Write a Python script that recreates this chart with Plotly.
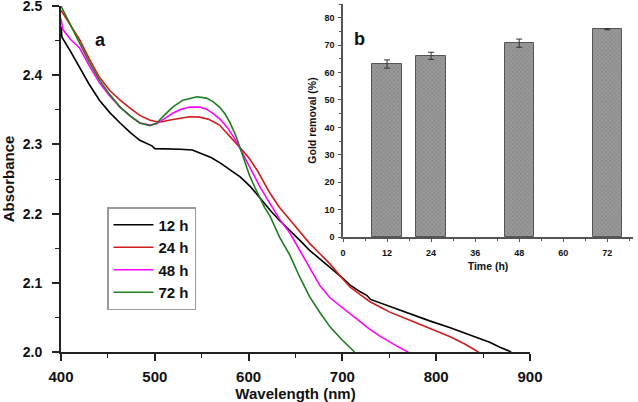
import plotly.graph_objects as go

# ---- Panel a: UV-vis absorbance spectra ----
wl_12 = [400, 400.5, 401, 410, 420, 430, 441, 452, 463, 474, 484, 493, 497, 500, 515, 527, 540, 548, 560, 570,
         580, 591, 602, 612, 623, 633, 644, 655, 665, 676, 687, 700, 708, 719, 726, 730, 740, 750, 772, 793,
         815, 836, 857, 868, 880]
abs_12 = [2.470, 2.462, 2.455, 2.435, 2.412, 2.387, 2.364, 2.346, 2.331, 2.317, 2.306, 2.300, 2.298, 2.294, 2.294,
          2.293, 2.292, 2.288, 2.281, 2.273, 2.264, 2.253, 2.239, 2.222, 2.205, 2.190, 2.176, 2.161, 2.147, 2.135,
          2.122, 2.107, 2.097, 2.087, 2.082, 2.076, 2.071, 2.066, 2.056, 2.045, 2.035, 2.024, 2.014, 2.007, 2.000]

wl_24 = [400, 410, 420, 430, 441, 452, 463, 474, 484, 495, 505, 515, 527, 537, 548, 558, 569, 580, 591, 600,
         609, 623, 633, 644, 655, 665, 676, 687, 697, 708, 719, 729, 740, 750, 772, 793, 815, 830, 845]
abs_24 = [2.494, 2.472, 2.451, 2.424, 2.397, 2.378, 2.364, 2.352, 2.342, 2.335, 2.332, 2.335, 2.338, 2.340, 2.3395,
          2.336, 2.328, 2.312, 2.295, 2.281, 2.263, 2.229, 2.209, 2.191, 2.174, 2.157, 2.142, 2.127, 2.111, 2.094,
          2.083, 2.073, 2.065, 2.058, 2.046, 2.034, 2.022, 2.012, 2.000]

wl_48 = [400, 401, 402, 410, 420, 430, 441, 452, 463, 474, 484, 495, 502, 510, 519, 528, 537, 548, 555, 562,
         570, 577, 584, 591, 598, 605, 612, 623, 633, 644, 655, 665, 676, 687, 697, 708, 719, 729, 740, 751,
         760, 770]
abs_48 = [2.482, 2.472, 2.466, 2.452, 2.439, 2.414, 2.389, 2.370, 2.354, 2.341, 2.331, 2.328, 2.330, 2.337, 2.345,
          2.351, 2.354, 2.354, 2.351, 2.345, 2.336, 2.325, 2.311, 2.294, 2.275, 2.257, 2.239, 2.214, 2.192, 2.172,
          2.146, 2.121, 2.096, 2.078, 2.067, 2.056, 2.044, 2.033, 2.023, 2.014, 2.007, 2.000]

wl_72 = [400, 410, 420, 430, 441, 452, 463, 474, 484, 495, 502, 510, 519, 530, 540, 545, 555, 562, 569, 575,
         580, 586, 591, 596, 601, 607, 612, 617, 623, 633, 644, 655, 665, 676, 687, 700, 713]
abs_72 = [2.500, 2.474, 2.446, 2.419, 2.393, 2.372, 2.354, 2.341, 2.331, 2.327, 2.331, 2.342, 2.354, 2.364, 2.368,
          2.369, 2.367, 2.362, 2.354, 2.344, 2.332, 2.314, 2.295, 2.275, 2.255, 2.237, 2.222, 2.209, 2.196, 2.166,
          2.140, 2.107, 2.080, 2.057, 2.036, 2.017, 2.000]

series_names = ["12 h", "24 h", "48 h", "72 h"]
series_colors = ["#000000", "#d01c1c", "#ff00ff", "#1e7d1e"]

# ---- Panel b: gold removal ----
time_h = [12, 24, 48, 72]
removal = [63.1, 66.1, 70.7, 75.8]
removal_err = [1.5, 1.3, 1.5, 0.2]

FONT = "Liberation Sans, Arial, sans-serif"
W, H = 638, 402
ML, MR, MT, MB = 61, 5, 4, 50
PW, PH = W - ML - MR, H - MT - MB


def px(x):
    return (x - ML) / PW


def py(y):
    return 1 - (y - MT) / PH


fig = go.Figure()
for name, color, xs, ys in zip(series_names, series_colors,
                                [wl_12, wl_24, wl_48, wl_72],
                                [abs_12, abs_24, abs_48, abs_72]):
    fig.add_trace(go.Scatter(x=xs, y=ys, mode="lines", name=name, legendgroup=name,
                             line=dict(color=color, width=1.6),
                             xaxis="x", yaxis="y"))

fig.add_trace(go.Bar(x=time_h, y=removal, width=8, showlegend=False,
                     marker=dict(color="#8c8c8c", line=dict(color="#555555", width=1),
                                 pattern=dict(shape="x", size=3, solidity=0.35,
                                              fgcolor="#6a6a6a", bgcolor="#9a9a9a")),
                     error_y=dict(type="data", array=removal_err, color="#333333",
                                  thickness=1, width=3),
                     xaxis="x2", yaxis="y2"))

axis_main = dict(showline=True, linecolor="#222222", linewidth=2, mirror=False,
                 ticks="outside", ticklen=7, tickwidth=1.5, tickcolor="#222222",
                 showgrid=False, zeroline=False, automargin=False, ticklabeloverflow="allow",
                 tickfont=dict(family=FONT, size=15, color="#111111", weight="bold"))
axis_inset = dict(showline=True, linecolor="#555555", linewidth=1.5, mirror=False,
                  ticks="outside", ticklen=3, tickwidth=1, tickcolor="#555555",
                  showgrid=False, zeroline=False, automargin=False, ticklabeloverflow="allow",
                  tickfont=dict(family=FONT, size=9, color="#111111", weight="bold"))

fig.update_layout(
    width=W, height=H,
    margin=dict(l=ML, r=MR, t=MT, b=MB, autoexpand=False),
    paper_bgcolor="white", plot_bgcolor="white",
    xaxis=dict(axis_main, domain=[0, px(530)], range=[400, 900.01], dtick=100, tick0=400,
               minor=dict(dtick=50, ticks="outside", ticklen=4, tickwidth=1.2, tickcolor="#222222"),
               ticklabelstandoff=3,
               title=dict(text="Wavelength (nm)", standoff=10,
                          font=dict(family=FONT, size=15, color="#111111", weight="bold")),
               anchor="y"),
    yaxis=dict(axis_main, domain=[0, py(6)], range=[2.0, 2.5001], dtick=0.1, tick0=2.0,
               tickformat=".1f",
               tickfont=dict(family=FONT, size=14, color="#111111", weight="bold"),
               minor=dict(dtick=0.05, ticks="outside", ticklen=4, tickwidth=1.2, tickcolor="#222222"),
               ticklabelstandoff=7,
               title=dict(text="Absorbance", standoff=11,
                          font=dict(family=FONT, size=15, color="#111111", weight="bold")),
               anchor="x"),
    xaxis2=dict(axis_inset, domain=[px(343), 1.0], range=[0, 79], dtick=12, tick0=0,
                minor=dict(dtick=6, ticks="outside", ticklen=2, tickwidth=1, tickcolor="#555555"),
                ticklabelstandoff=3,
                title=dict(text="Time (h)", standoff=6,
                           font=dict(family=FONT, size=10.5, color="#111111", weight="bold")),
                anchor="y2"),
    yaxis2=dict(axis_inset, domain=[py(237), 1.0], range=[0, 85], dtick=10, tick0=0,
                minor=dict(dtick=5, ticks="outside", ticklen=2, tickwidth=1, tickcolor="#555555"),
                ticklabelstandoff=2,
                title=dict(text="Gold removal (%)", standoff=6,
                           font=dict(family=FONT, size=10.5, color="#111111", weight="bold")),
                anchor="x2"),
    legend=dict(x=px(107), y=py(207), xanchor="left", yanchor="top",
                bgcolor="white", bordercolor="#9a9a9a", borderwidth=1.5,
                font=dict(family=FONT, size=15, color="#111111", weight="bold"),
                tracegroupgap=0, itemwidth=40),
    annotations=[
        dict(text="a", x=px(100), y=py(40), xref="paper", yref="paper", showarrow=False,
             xanchor="center", yanchor="middle",
             font=dict(family=FONT, size=18, color="#111111", weight="bold")),
        dict(text="b", x=px(359), y=py(39), xref="paper", yref="paper", showarrow=False,
             xanchor="center", yanchor="middle",
             font=dict(family=FONT, size=18, color="#111111", weight="bold")),
    ],
    bargap=0,
)

fig.write_html("out.html", config={"displayModeBar": False},
               post_script="document.body.style.margin='0px';")
